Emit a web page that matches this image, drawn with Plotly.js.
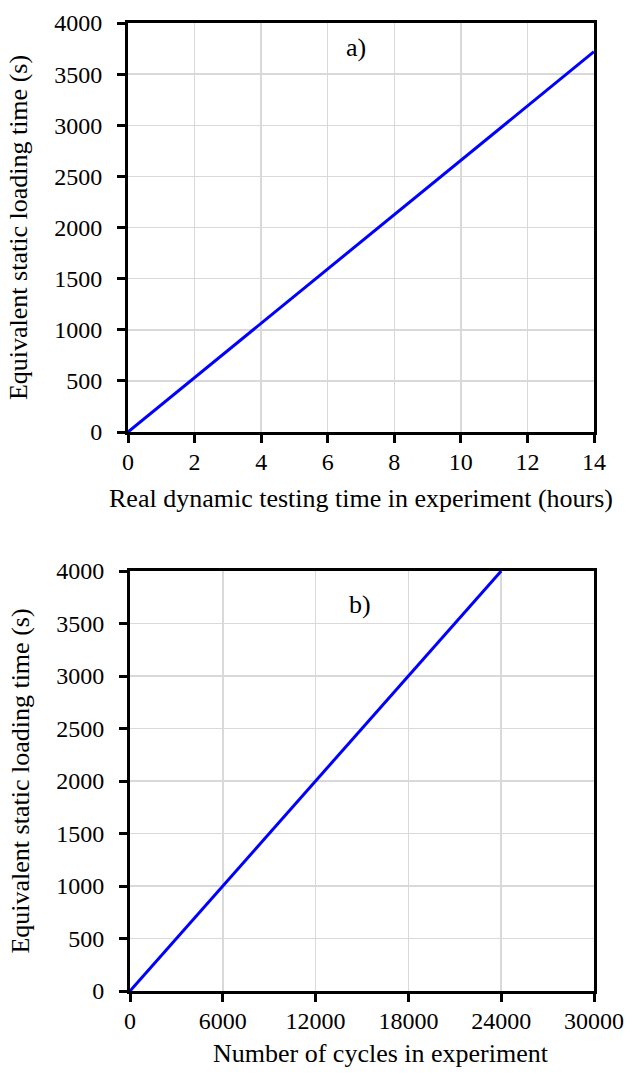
<!DOCTYPE html>
<html>
<head>
<meta charset="utf-8">
<script src="https://cdn.plot.ly/plotly-3.0.1.min.js"></script>
<style>
  html, body { margin: 0; padding: 0; background: #fff; }
  #chart { width: 630px; height: 1075px; }
</style>
</head>
<body>
<div id="chart"></div>
<script>
// a) equivalent static loading time vs. real dynamic testing time
const hoursX = [0, 14];
const staticTimeA = [0, 3720];
const hourTicks = [0, 2, 4, 6, 8, 10, 12, 14];

// b) equivalent static loading time vs. number of cycles
const cyclesX = [0, 24000];
const staticTimeB = [0, 4000];
const cycleTicks = [0, 6000, 12000, 18000, 24000, 30000];

const staticTicks = [0, 500, 1000, 1500, 2000, 2500, 3000, 3500, 4000];

const W = 630, H = 1075;
const serif = 'Liberation Serif, Times New Roman, serif';
const tickFont = { family: serif, size: 24, color: '#000' };
const titleFont = { family: serif, size: 26, color: '#000' };

function axisBase() {
  return {
    showline: true, linecolor: '#000', linewidth: 3, mirror: true,
    ticks: 'outside', ticklen: 8, tickwidth: 3, tickcolor: '#000',
    showgrid: true, gridcolor: '#d9d9d9', gridwidth: 1.5,
    zeroline: false, automargin: false,
    tickfont: tickFont, tickformat: 'd', fixedrange: true
  };
}

const traces = [
  { x: hoursX, y: staticTimeA, xaxis: 'x', yaxis: 'y', mode: 'lines',
    line: { color: '#0000ff', width: 3 }, hoverinfo: 'skip' },
  { x: cyclesX, y: staticTimeB, xaxis: 'x2', yaxis: 'y2', mode: 'lines',
    line: { color: '#0000ff', width: 3 }, hoverinfo: 'skip' }
];

const layout = {
  width: W, height: H,
  margin: { l: 0, r: 0, t: 0, b: 0 },
  paper_bgcolor: '#fff', plot_bgcolor: '#fff',
  showlegend: false,
  font: tickFont,
  xaxis: Object.assign(axisBase(), {
    domain: [128 / W, 594 / W], anchor: 'y',
    range: [0, 14], tickvals: hourTicks, ticklabelstandoff: -2,
    title: { text: 'Real dynamic testing time in experiment (hours)', font: titleFont, standoff: 16 }
  }),
  yaxis: Object.assign(axisBase(), {
    domain: [1 - 432 / H, 1 - 23 / H], anchor: 'x',
    range: [0, 4000], tickvals: staticTicks, ticklabelstandoff: 10,
    title: { text: 'Equivalent static loading time (s)', font: titleFont, standoff: 20 }
  }),
  xaxis2: Object.assign(axisBase(), {
    domain: [130 / W, 594 / W], anchor: 'y2',
    range: [0, 30000], tickvals: cycleTicks, ticklabelstandoff: -2
  }),
  yaxis2: Object.assign(axisBase(), {
    domain: [1 - 991 / H, 1 - 571 / H], anchor: 'x2',
    range: [0, 4000], tickvals: staticTicks, ticklabelstandoff: 10,
    title: { text: 'Equivalent static loading time (s)', font: titleFont, standoff: 20 }
  }),
  annotations: [
    { text: 'a)', xref: 'x', yref: 'y', x: 6.86, y: 3757, showarrow: false, font: titleFont },
    { text: 'b)', xref: 'x2', yref: 'y2', x: 14870, y: 3680, showarrow: false, font: titleFont },
    // x-axis title of panel b), set slightly right of the axis centre
    { text: 'Number of cycles in experiment', xref: 'paper', yref: 'paper',
      x: 381 / W, y: 1 - 1053 / H, xanchor: 'center', yanchor: 'middle',
      showarrow: false, font: titleFont }
  ]
};

Plotly.newPlot('chart', traces, layout, { staticPlot: true, displayModeBar: false });
</script>
</body>
</html>
